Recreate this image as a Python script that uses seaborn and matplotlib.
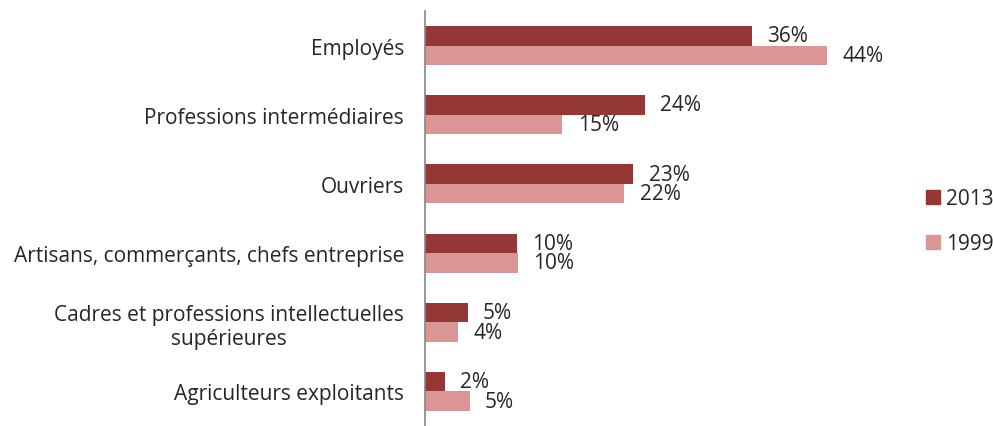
import pandas as pd
import seaborn as sns
import matplotlib.pyplot as plt
from matplotlib.patches import Patch

# categories (top to bottom) and values
categories = ['Employés', 'Professions intermédiaires', 'Ouvriers',
              'Artisans, commerçants, chefs entreprise',
              'Cadres et professions intellectuelles\nsupérieures',
              'Agriculteurs exploitants']
vals_2013 = [35.9, 24.2, 22.9, 10.1, 4.7, 2.2]
vals_1999 = [44.2, 15.1, 21.9, 10.2, 3.6, 4.9]
labels_2013 = ['36%', '24%', '23%', '10%', '5%', '2%']
labels_1999 = ['44%', '15%', '22%', '10%', '4%', '5%']
years = ['2013', '1999']
colors = ['#953735', '#DA9694']

sns.set_style('white')
plt.rcParams['font.family'] = ['Open Sans', 'DejaVu Sans']
text_col = '#262626'
fs = 15

# long format for seaborn
df = pd.DataFrame({
    'cat': categories * 2,
    'val': vals_2013 + vals_1999,
    'year': ['2013'] * 6 + ['1999'] * 6,
})

fig = plt.figure(figsize=(9.93, 4.27), dpi=100)
ax = fig.add_axes([425 / 993, 0.0, 455 / 993, 1 - 12 / 427])
sns.barplot(data=df, y='cat', x='val', hue='year', hue_order=years,
            palette=colors, width=0.565, orient='h', ax=ax, legend=False,
            saturation=1, linewidth=0)

ax.set_xlim(0, 50)
ax.set_ylim(5.5, -0.5)
ax.set_xlabel('')
ax.set_ylabel('')
ax.set_xticks([])

# value labels
for cont, labs in zip(ax.containers, [labels_2013, labels_1999]):
    ax.bar_label(cont, labels=labs, padding=11, fontsize=fs, color=text_col)

# category labels, tick marks on boundaries
ax.set_yticks(range(6))
ax.set_yticklabels(categories, fontsize=fs, color=text_col)
for t in ax.get_yticklabels():
    t.set_multialignment('center')
ax.tick_params(axis='y', which='major', length=0, pad=15)
ax.set_yticks([k - 0.5 for k in range(7)], minor=True)
ax.tick_params(axis='y', which='minor', length=5, color='#868686', width=1.2, direction='out')

for s in ['top', 'right', 'bottom']:
    ax.spines[s].set_visible(False)
ax.spines['left'].set_color('#868686')
ax.spines['left'].set_linewidth(1.2)

handles = [Patch(color=c) for c in colors]
fig.legend(handles, years, loc='center left', bbox_to_anchor=(926 / 993, 1 - 222 / 427),
           frameon=False, fontsize=fs, labelcolor=text_col, handlelength=0.65,
           handleheight=0.65, handletextpad=0.3, labelspacing=1.15, borderpad=0,
           borderaxespad=0)

fig.savefig('out.png', dpi=100)
